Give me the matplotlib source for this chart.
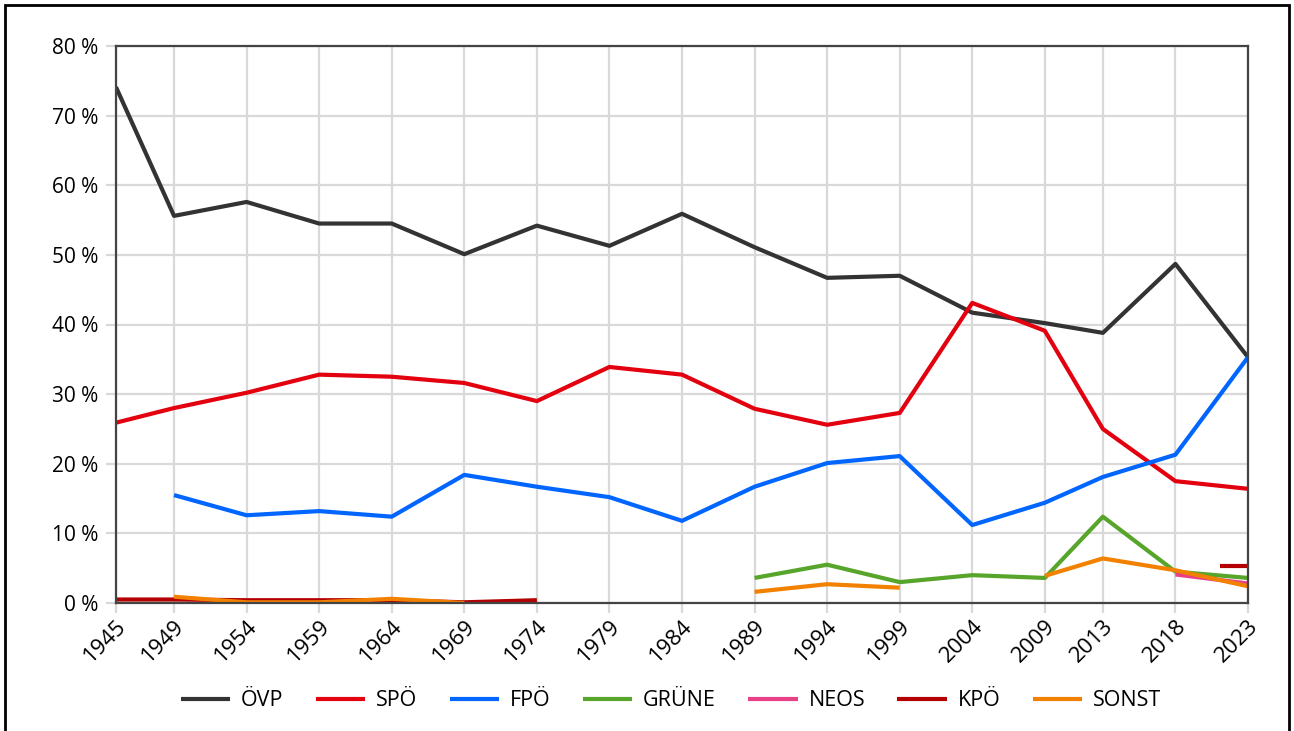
import numpy as np
import matplotlib
matplotlib.use('Agg')
import matplotlib.pyplot as plt
from matplotlib.patches import Rectangle
from matplotlib.ticker import FuncFormatter

plt.rcParams['font.family'] = ['Open Sans', 'DejaVu Sans']

nan = np.nan
years = [1945, 1949, 1954, 1959, 1964, 1969, 1974, 1979, 1984,
         1989, 1994, 1999, 2004, 2009, 2013, 2018, 2023]

# vote shares in %, nan = not contested / no data
oevp = [74.1, 55.6, 57.6, 54.5, 54.5, 50.1, 54.2, 51.3, 55.9,
        51.1, 46.7, 47.0, 41.7, 40.2, 38.8, 48.7, 35.3]
spoe = [25.9, 28.0, 30.2, 32.8, 32.5, 31.6, 29.0, 33.9, 32.8,
        27.9, 25.6, 27.3, 43.1, 39.1, 25.0, 17.5, 16.4]
fpoe = [nan, 15.5, 12.6, 13.2, 12.4, 18.4, 16.7, 15.2, 11.8,
        16.7, 20.1, 21.1, 11.2, 14.4, 18.1, 21.3, 35.3]
gruene = [nan, nan, nan, nan, nan, nan, nan, nan, nan,
          3.6, 5.5, 3.0, 4.0, 3.6, 12.4, 4.5, 3.6]
neos = [nan, nan, nan, nan, nan, nan, nan, nan, nan,
        nan, nan, nan, nan, nan, nan, 4.1, 2.8]
kpoe = [0.5, 0.5, 0.4, 0.4, 0.4, 0.1, 0.4, nan, nan,
        nan, nan, nan, nan, nan, nan, nan, 5.3]
sonst = [nan, 0.9, 0.1, 0.1, 0.6, 0.0, nan, nan, nan,
         1.6, 2.7, 2.2, nan, 3.9, 6.4, 4.7, 2.4]

series = [
    ('ÖVP', oevp, '#333333'),
    ('SPÖ', spoe, '#e3000f'),
    ('FPÖ', fpoe, '#0066ff'),
    ('GRÜNE', gruene, '#57a52a'),
    ('NEOS', neos, '#e84188'),
    ('KPÖ', kpoe, '#b40000'),
    ('SONST', sonst, '#f28100'),
]

fig = plt.figure(figsize=(12.94, 7.31), dpi=100)
ax = fig.add_axes([116 / 1294, 1 - 603 / 731, 1132 / 1294, 557 / 731])

for name, vals, col in series:
    vals = np.asarray(vals, dtype=float)
    ax.plot(years, vals, color=col, lw=3, label=name, solid_capstyle='butt')
    # isolated points (no neighbours) are drawn as a short dash
    for i, v in enumerate(vals):
        prev_ok = i > 0 and not np.isnan(vals[i - 1])
        next_ok = i < len(vals) - 1 and not np.isnan(vals[i + 1])
        if not np.isnan(v) and not prev_ok and not next_ok:
            ax.plot([years[i]], [v], marker='_', ms=40, mew=3, color=col)

ax.set_xlim(years[0], years[-1])
ax.set_ylim(0, 80)
ax.set_xticks(years)
ax.set_yticks(range(0, 81, 10))
ax.yaxis.set_major_formatter(FuncFormatter(lambda v, p: f'{v:.0f} %'))

ax.grid(True, color='#d9d9d9', lw=1.6)
ax.set_axisbelow(True)
for s in ax.spines.values():
    s.set_color('#444444')
    s.set_linewidth(1.6)

ax.tick_params(axis='both', length=7, width=1.6, color='#d9d9d9',
               labelcolor='black')
ax.tick_params(axis='y', pad=6, labelsize=15)
ax.tick_params(axis='x', pad=2, labelsize=16)
for t in (ax.xaxis.get_major_ticks()[0], ax.xaxis.get_major_ticks()[-1],
          ax.yaxis.get_major_ticks()[0], ax.yaxis.get_major_ticks()[-1]):
    t.tick1line.set_color('#444444')
for lbl in ax.get_xticklabels():
    lbl.set_rotation(45)
    lbl.set_ha('right')
    lbl.set_va('top')
    lbl.set_rotation_mode('anchor')

fig.legend(loc='center', bbox_to_anchor=(671 / 1294, 1 - 701 / 731), ncol=7,
           frameon=False, fontsize=15.5, handlelength=2.3,
           handletextpad=0.5, columnspacing=1.5)

# outer frame of the picture
fig.patches.append(Rectangle((5 / 1294, -0.05), 1284 / 1294, 1.05 - 5 / 731,
                             transform=fig.transFigure, fill=False,
                             edgecolor='black', lw=2))

fig.savefig('out.png', dpi=100)
